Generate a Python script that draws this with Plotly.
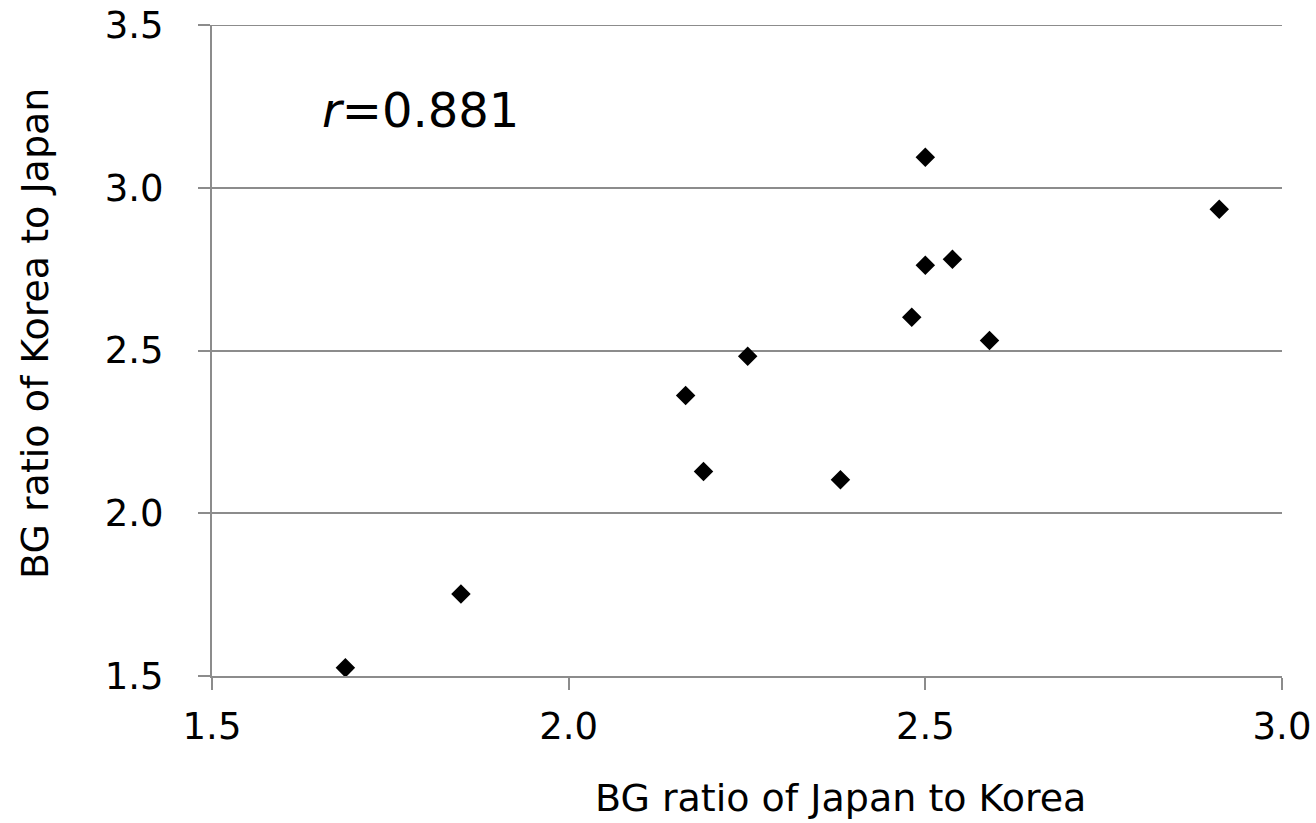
import plotly.graph_objects as go

jp_to_kr = [1.687, 1.849, 2.164, 2.189, 2.251, 2.381, 2.481, 2.500, 2.500, 2.538, 2.590, 2.912]
kr_to_jp = [1.525, 1.752, 2.362, 2.128, 2.482, 2.103, 2.602, 3.094, 2.762, 2.780, 2.531, 2.934]

x_ticks = [1.5, 2.0, 2.5, 3.0]
y_ticks = [1.5, 2.0, 2.5, 3.0, 3.5]
tick_text_x = ["1.5", "2.0", "2.5", "3.0"]
tick_text_y = ["1.5", "2.0", "2.5", "3.0", "3.5"]

x_title = "BG ratio of Japan to Korea"
y_title = "BG ratio of Korea to Japan"
r_label = "<i>r</i>=0.881"

FONT = "Verdana, DejaVu Sans, sans-serif"
AXC = "#8c8c8c"

fig = go.Figure()
fig.add_trace(go.Scatter(
    x=jp_to_kr, y=kr_to_jp, mode="markers",
    marker=dict(symbol="diamond", size=15, color="black"),
    showlegend=False,
))

fig.add_annotation(
    x=0.101, y=0.869, xref="paper", yref="paper",
    text=r_label, showarrow=False,
    xanchor="left", yanchor="middle",
    font=dict(family=FONT, size=48, color="black"),
)
fig.add_annotation(
    x=0.587, y=-0.188, xref="paper", yref="paper",
    text=x_title, showarrow=False,
    xanchor="center", yanchor="middle",
    font=dict(family=FONT, size=38, color="black"),
)
fig.add_annotation(
    x=-0.166, y=0.526, xref="paper", yref="paper",
    text=y_title, showarrow=False, textangle=-90,
    xanchor="center", yanchor="middle",
    font=dict(family=FONT, size=38, color="black"),
)
# top gridline (at the last y tick)
fig.add_shape(
    type="line", xref="paper", yref="y",
    x0=0, x1=1, y0=y_ticks[-1], y1=y_ticks[-1],
    line=dict(color=AXC, width=2), layer="below",
)

fig.update_layout(
    width=1316, height=823,
    margin=dict(l=212, r=34, t=25, b=147, autoexpand=False),
    plot_bgcolor="white", paper_bgcolor="white",
    font=dict(family=FONT, size=37, color="black"),
    xaxis=dict(
        range=[1.5, 3.0], tickvals=x_ticks, ticktext=tick_text_x,
        showgrid=False, zeroline=False, automargin=False,
        showline=True, linecolor=AXC, linewidth=2,
        ticks="outside", ticklen=12, tickcolor=AXC, tickwidth=2,
        tickfont=dict(family=FONT, size=37),
        ticklabelstandoff=5, ticklabeloverflow="allow",
    ),
    yaxis=dict(
        range=[1.5, 3.5], tickvals=y_ticks, ticktext=tick_text_y,
        showgrid=True, gridcolor=AXC, gridwidth=2, zeroline=False,
        automargin=False,
        showline=True, linecolor=AXC, linewidth=2,
        ticks="outside", ticklen=12, tickcolor=AXC, tickwidth=2,
        tickfont=dict(family=FONT, size=37),
        ticklabelstandoff=27, ticklabeloverflow="allow",
    ),
)

fig.write_html("out.html", config={"displayModeBar": False},
               post_script="document.body.style.margin='0';")
